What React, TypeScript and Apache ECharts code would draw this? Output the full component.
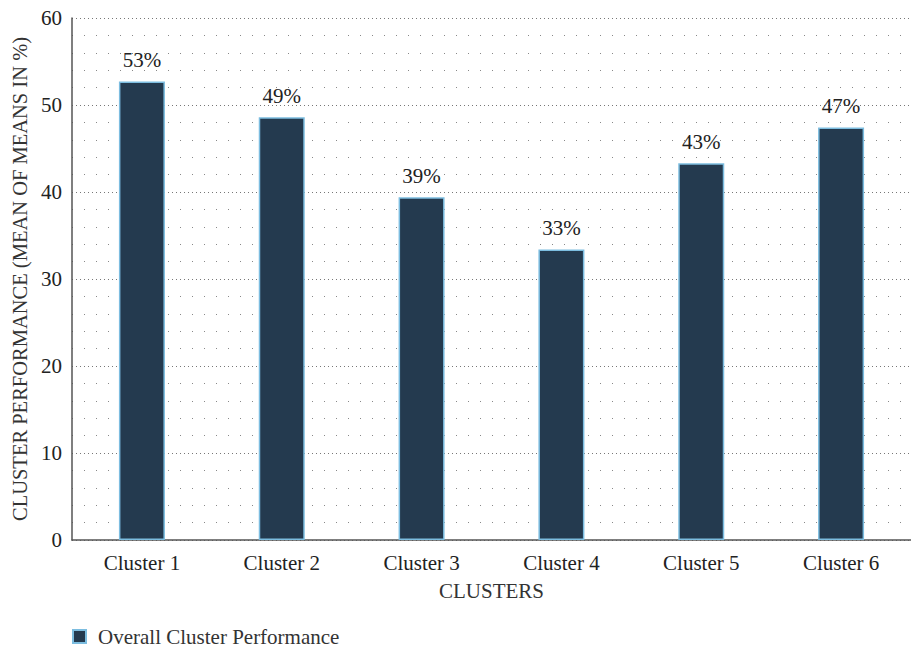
import React, { useEffect, useRef } from "react";
import * as echarts from "echarts";

const categories = ["Cluster 1", "Cluster 2", "Cluster 3", "Cluster 4", "Cluster 5", "Cluster 6"];
const values = [52.7, 48.6, 39.4, 33.4, 43.3, 47.4];
const labels = ["53%", "49%", "39%", "33%", "43%", "47%"];
const yTicks = { min: 0, max: 60, interval: 10 };
const seriesName = "Overall Cluster Performance";

export default function App() {
  const ref = useRef<HTMLDivElement>(null);
  useEffect(() => {
    document.body.style.margin = "0";
    document.body.style.overflow = "hidden";
    const chart = echarts.init(ref.current!, null, { renderer: "svg" });
    const font = "'Liberation Serif', 'DejaVu Serif', serif";
    const fs = 21;
    chart.setOption({
      animation: false,
      textStyle: { fontFamily: font },
      grid: { left: 72, right: 0, top: 18, bottom: 108, containLabel: false, outerBoundsMode: "none" },
      legend: {
        show: true,
        left: 72,
        top: 626,
        padding: 0,
        itemWidth: 13,
        itemHeight: 13,
        textStyle: { fontFamily: font, fontSize: fs, color: "#333", padding: [0, 0, 0, 7] },
        data: [{ name: seriesName, icon: "rect" }],
      },
      xAxis: {
        type: "category",
        data: categories,
        name: "CLUSTERS",
        nameLocation: "middle",
        nameGap: 40,
        nameTextStyle: { fontFamily: font, fontSize: fs, color: "#333" },
        axisLine: { lineStyle: { color: "#555", width: 1.5 } },
        axisTick: { show: false },
        axisLabel: { fontFamily: font, fontSize: fs, color: "#222", margin: 12 },
      },
      yAxis: {
        type: "value",
        min: yTicks.min,
        max: yTicks.max,
        interval: yTicks.interval,
        name: "CLUSTER PERFORMANCE (MEAN OF MEANS IN %)",
        nameLocation: "middle",
        nameGap: 42,
        nameTextStyle: { fontFamily: font, fontSize: 20.5, color: "#333" },
        axisLine: { show: true, lineStyle: { color: "#555", width: 1.5 } },
        axisTick: { show: false },
        axisLabel: { fontFamily: font, fontSize: fs, color: "#222", margin: 10 },
        splitLine: { show: true, lineStyle: { color: "#777", type: [1, 3], width: 1 } },
        minorTick: { show: false, splitNumber: 5 },
        minorSplitLine: { show: true, lineStyle: { color: "#888", type: [1, 11], width: 1 } },
      },
      series: [
        {
          name: seriesName,
          type: "bar",
          data: values,
          barWidth: 46,
          itemStyle: { color: "#243a4f", borderColor: "#7cbde0", borderWidth: 1.5 },
          label: {
            show: true,
            position: "top",
            distance: 11,
            fontFamily: font,
            fontSize: fs,
            color: "#222",
            formatter: (p: any) => labels[p.dataIndex],
          },
        },
      ],
    });
    return () => chart.dispose();
  }, []);
  return <div ref={ref} style={{ width: 911, height: 648 }} />;
}
